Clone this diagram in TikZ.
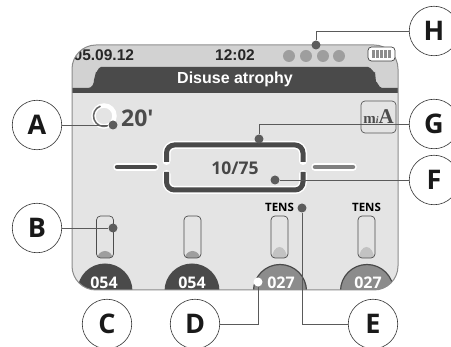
\documentclass[tikz,border=0pt]{standalone}
\usepackage{fontspec}
\setmainfont{Liberation Sans}
\newfontfamily\labelfont{Open Sans}
\newfontfamily\iconfont{Liberation Serif}
\usepackage{xcolor}
\definecolor{screenbg}{HTML}{E4E4E4}
\definecolor{topbg}{HTML}{D2D2D2}
\definecolor{barbg}{HTML}{4A4A4A}
\definecolor{wirecol}{HTML}{5A5A5A}
\definecolor{tensbg}{HTML}{8C8C8C}
\tikzset{
    callout/.style={circle,draw=black!80,line width=.6pt,fill=white,minimum size=49.5pt,inner sep=0pt,font=\labelfont\fontsize{27}{27}\selectfont\bfseries,text=black!90},
    pin/.style={circle,fill=barbg!90,minimum size=9pt,inner sep=0pt},
    wire/.style={draw=wirecol,line width=.9pt},
    levelval/.style={text=white,font=\labelfont\fontsize{16}{16}\selectfont\bfseries,inner sep=0pt},
    tube/.style={draw=black!70,line width=.7pt,rounded corners=4pt},
    tenslab/.style={font=\labelfont\fontsize{11.5}{12}\selectfont\bfseries,inner sep=0pt},
    toplab/.style={inner sep=0pt,font=\fontsize{15.5}{16}\selectfont\bfseries,text=black!85}
}
\begin{document}
\begin{tikzpicture}[x=1pt,y=-1pt]
\useasboundingbox (0,0) rectangle (451,347);
%screen
\begin{scope}
    \clip[rounded corners=24pt] (72,45) rectangle (398,290);
    \fill[screenbg] (72,45) rectangle (398,290);
    \fill[topbg] (72,45) rectangle (398,92);
    \fill[barbg] (72,88) -- (88,88) to[out=0,in=270] (94,80) -- (96,72) to[out=270,in=180] (101,67) -- (368,67) to[out=0,in=270] (375,72) -- (376,82) to[out=90,in=180] (382,88) -- (398,88) -- (398,93) -- (72,93) -- cycle;
    \node[anchor=west,toplab] (datelab) at (73.5,55) {05.09.12};
    %level circles
    \fill[barbg] (105,291) circle(27.5);
    \fill[barbg] (192,291) circle(27.5);
    \draw[fill=tensbg,draw=barbg,line width=1.2pt] (280,291) circle(26.5);
    \draw[fill=tensbg,draw=barbg,line width=1.2pt] (367,291) circle(26.5);
\end{scope}
\draw[draw=black!45,line width=1pt,rounded corners=24pt] (72,45) rectangle (398,290);
%top row
\node[toplab] (timelab) at (235,55) {12:02};
\foreach \x/\name in {289/a,306/b,323/c,339/d}
    \node[circle,fill=black!38,minimum size=12pt,inner sep=0pt] (step\name) at (\x,56) {};
\draw[black!75,fill=white,rounded corners=3.5pt,line width=.7pt] (368,47) rectangle (395,61);
\foreach \x in {371.5,375.5,379.5,383.5,387.5}
    \fill[black!45] (\x,50) rectangle ++(3,8);
\node[text=white,inner sep=0pt,font=\fontsize{16}{16}\selectfont\bfseries] (titlelab) at (235,79.5) {Disuse atrophy};
%timer
\draw[white,line width=4.5pt] (104,116) circle(10.5);
\draw[black!60,line width=1.5pt] (104,116) ++(70:-10.5) arc(-110:-290:10.5);
\node[anchor=west,inner sep=0pt,text=black!70,font=\labelfont\fontsize{23}{23}\selectfont\bfseries] (durlab) at (121,118) {20'};
%mA button
\node[draw=black!65,fill=screenbg,rounded corners=4pt,line width=.7pt,minimum width=35pt,minimum height=32pt,inner sep=0pt,text=black!70,font=\iconfont\bfseries] (modebtn) at (378.5,117) {\fontsize{15}{15}\selectfont m\fontsize{10}{10}\selectfont\itshape i\fontsize{21}{21}\selectfont\upshape A};
%intensity frame
\draw[white,line width=8pt,rounded corners=8pt,line cap=round] (166.5,161) -- (166.5,145) -- (303,145) -- (303,161);
\draw[white,line width=8pt,rounded corners=8pt,line cap=round] (166.5,174) -- (166.5,190) -- (303,190) -- (303,174);
\draw[barbg,line width=5pt,rounded corners=8pt] (166.5,162) -- (166.5,145) -- (303,145) -- (303,162);
\draw[barbg,line width=5pt,rounded corners=8pt] (166.5,172) -- (166.5,190) -- (303,190) -- (303,172);
\draw[white,line width=7.5pt,line cap=round] (117,167) -- (155,167);
\draw[barbg,line width=4.5pt,line cap=round] (117,167) -- (155,167);
\draw[white,line width=7.5pt,line cap=round] (315,167) -- (353,167);
\draw[black!50,line width=4.5pt,line cap=round] (315,167) -- (353,167);
\node[inner sep=0pt,text=black!72,font=\labelfont\fontsize{17.5}{18}\selectfont\bfseries] (intlab) at (235,168.5) {10/75};
%channels
\foreach \x/\fillcol/\ry in {105/black!38/7.5,192.5/black!38/7.5,279.5/black!24/11.5,366.5/black!24/11.5} {
    \begin{scope}
        \clip[rounded corners=4pt] (\x-8.5,216) rectangle (\x+8.5,258);
        \fill[\fillcol] (\x,258.5) ellipse(7.5 and \ry);
    \end{scope}
    \draw[tube] (\x-8.5,216) rectangle (\x+8.5,258);
}
\node[levelval] (levela) at (104,283) {054};
\node[levelval] (levelb) at (192,283) {054};
\node[levelval] (levelc) at (281,283) {027};
\node[levelval] (leveld) at (368,283) {027};
\node[tenslab] (tensa) at (279.5,207) {TENS};
\node[tenslab] (tensb) at (366.5,207) {TENS};
%callouts
\node[callout] (A) at (37,125) {A};
\node[callout] (B) at (37,228) {B};
\node[callout] (C) at (107,324) {C};
\node[callout] (D) at (195,324) {D};
\node[callout] (E) at (373,324) {E};
\node[callout] (F) at (434,180) {F};
\node[callout] (G) at (434,124) {G};
\node[callout] (H) at (434,31) {H};
%pins
\node[pin] (pinA) at (113,125) {};
\node[pin] (pinB) at (113,228) {};
\node[pin,fill=white] (pinD) at (258,282) {};
\node[pin] (pinE) at (302,208) {};
\node[pin] (pinF) at (275,180) {};
\node[pin] (pinG) at (259,139) {};
\node[pin] (pinH) at (316,45) {};
\draw[wire] (A) -- (pinA);
\draw[wire] (B) -- (pinB);
\draw[wire] (D) -| (pinD);
\draw[wire] (E) -| (pinE);
\draw[wire] (F) -- (pinF);
\draw[wire] (G.west) -| (pinG);
\draw[wire] (H.west) -| (pinH);
\end{tikzpicture}
\end{document}
